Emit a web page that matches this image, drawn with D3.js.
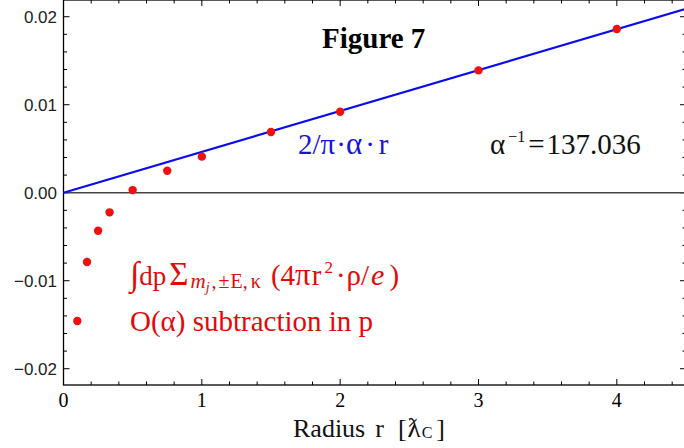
<!DOCTYPE html>
<html>
<head>
<meta charset="utf-8">
<script src="https://cdn.jsdelivr.net/npm/d3@7"></script>
<style>
  body { margin: 0; background: #fff; }
  svg { display: block; }
</style>
</head>
<body>
<script>
// data
var radius = [0.1, 0.17, 0.25, 0.333, 0.5, 0.75, 1, 1.5, 2, 3, 4];
var density = [-0.01458, -0.00788, -0.00432, -0.00223, 0.0003, 0.0025, 0.0041, 0.0069, 0.0092, 0.0139, 0.0186];
// straight line 2/pi*alpha*r, end points
var lineR = [0, 4.5];
var lineVal = [0, 0.0209];
var xTickLabels = ["0", "1", "2", "3", "4"];
var yTickLabels = ["\u22120.02", "\u22120.01", "0.00", "0.01", "0.02"];
var yTickVals = [-0.02, -0.01, 0, 0.01, 0.02];

var svgWidth = 684;
var svgHeight = 448;

var svg = d3.select("body")
  .append("svg")
  .attr("width", svgWidth)
  .attr("height", svgHeight);

var xScale = d3.scaleLinear()
  .domain([0, 4.5])
  .range([63.5, 686]);

var yScale = d3.scaleLinear()
  .domain([-0.02185, 0.0219])
  .range([385, 0]);

var serif = "'Liberation Serif', 'Times New Roman', serif";

// frame
svg.append("rect")
  .attr("x", xScale(0))
  .attr("y", yScale(0.0219))
  .attr("width", xScale(4.5) - xScale(0))
  .attr("height", yScale(-0.02185) - yScale(0.0219))
  .attr("fill", "none")
  .attr("stroke", "#000")
  .attr("stroke-width", 1.3);

// ticks pointing inwards on all 4 sides
var xMajor = d3.range(0, 4.01, 1);
var xMinor = d3.range(0, 4.5, 0.2).filter(d => Math.abs(d - Math.round(d)) > 0.01);
var yMajor = yTickVals;
var yMinor = d3.range(-0.02, 0.0201, 0.002).filter(d => Math.abs(d * 100 - Math.round(d * 100)) > 0.01);

function xTicks(vals, len) {
  svg.append("g").selectAll("line.b")
    .data(vals).enter().append("line")
    .attr("x1", d => xScale(d)).attr("x2", d => xScale(d))
    .attr("y1", yScale.range()[0]).attr("y2", yScale.range()[0] - len)
    .attr("stroke", "#000").attr("stroke-width", 1);
  svg.append("g").selectAll("line.t")
    .data(vals).enter().append("line")
    .attr("x1", d => xScale(d)).attr("x2", d => xScale(d))
    .attr("y1", 0).attr("y2", len)
    .attr("stroke", "#000").attr("stroke-width", 1);
}
function yTicks(vals, len) {
  svg.append("g").selectAll("line.l")
    .data(vals).enter().append("line")
    .attr("x1", xScale(0)).attr("x2", xScale(0) + len)
    .attr("y1", d => yScale(d)).attr("y2", d => yScale(d))
    .attr("stroke", "#000").attr("stroke-width", 1);
  svg.append("g").selectAll("line.r")
    .data(vals).enter().append("line")
    .attr("x1", xScale(4.5)).attr("x2", xScale(4.5) - len)
    .attr("y1", d => yScale(d)).attr("y2", d => yScale(d))
    .attr("stroke", "#000").attr("stroke-width", 1);
}
xTicks(xMajor, 6);
xTicks(xMinor, 3.5);
yTicks(yMajor, 6);
yTicks(yMinor, 3.5);

// tick labels
svg.append("g").selectAll("text")
  .data(xMajor).enter().append("text")
  .attr("x", d => xScale(d))
  .attr("y", 407)
  .attr("text-anchor", "middle")
  .style("font-family", serif)
  .style("font-size", "20px")
  .text((d, i) => xTickLabels[i]);

svg.append("g").selectAll("text")
  .data(yMajor).enter().append("text")
  .attr("x", 57)
  .attr("y", d => yScale(d) + 6)
  .attr("text-anchor", "end")
  .style("font-family", "'Liberation Sans', Arial, sans-serif")
  .style("font-size", "17px")
  .style("fill", "#222")
  .text((d, i) => yTickLabels[i]);

// zero line
svg.append("line")
  .attr("x1", xScale(0)).attr("x2", xScale(4.5))
  .attr("y1", yScale(0)).attr("y2", yScale(0))
  .attr("stroke", "#444")
  .attr("stroke-width", 1.5);

// blue line
var line = d3.line()
  .x((d, i) => xScale(lineR[i]))
  .y(d => yScale(d));
svg.append("path")
  .datum(lineVal)
  .attr("d", line)
  .attr("fill", "none")
  .attr("stroke", "#0a0af0")
  .attr("stroke-width", 2.2);

// points
svg.append("g").selectAll("circle")
  .data(radius).enter().append("circle")
  .attr("cx", d => xScale(d))
  .attr("cy", (d, i) => yScale(density[i]))
  .attr("r", 4.2)
  .attr("fill", "#f01010");

// annotations
svg.append("text")
  .attr("x", 322).attr("y", 48)
  .style("font-family", serif)
  .style("font-size", "29px")
  .style("font-weight", "bold")
  .text("Figure 7");

// helper: piece of running text, shifted by dx / dy
function piece(parent, str, dx, size, dy, italic) {
  var t = parent.append("tspan").text(str);
  if (dx) t.attr("dx", dx);
  if (size) t.style("font-size", size + "px");
  if (dy) t.attr("dy", dy);
  if (italic) t.style("font-style", "italic");
  return t;
}

var blueTxt = svg.append("text")
  .attr("x", 298).attr("y", 154)
  .style("font-family", serif)
  .style("font-size", "29px")
  .style("fill", "#1414d8");
piece(blueTxt, "2/\u03c0");
piece(blueTxt, "\u00b7", 1);
piece(blueTxt, "\u03b1", 0, 31);
piece(blueTxt, "\u00b7", 3);
piece(blueTxt, "r", 4);

var alphaTxt = svg.append("text")
  .attr("x", 490).attr("y", 154)
  .style("font-family", serif)
  .style("font-size", "29px")
  .style("fill", "#111");
piece(alphaTxt, "\u03b1");
piece(alphaTxt, "\u22121", 3, 16, -12);
piece(alphaTxt, "=", 3, null, 12);
piece(alphaTxt, "137.036", 2);

var red = "#e00a0a";
var t1 = svg.append("text")
  .attr("x", 130).attr("y", 285)
  .style("font-family", serif)
  .style("font-size", "29px")
  .style("fill", red);
piece(t1, "\u222b", 0, 34);
piece(t1, "dp", 0, 27);
piece(t1, "\u03a3", 3, 33);
piece(t1, "m", 2, 21, 3, true);
piece(t1, "j", 0, 14, 4, true);
piece(t1, ",", 2, 20, -4);
piece(t1, "\u00b1", 2, 20);
piece(t1, "E,", 1, 20);
piece(t1, "\u03ba", 3, 20);
piece(t1, "(", 10, null, -3);
piece(t1, "4");
piece(t1, "\u03c0", 0, 31);
piece(t1, "r", 1);
piece(t1, "2", 3, 17, -12);
piece(t1, "\u00b7", 3, null, 12);
piece(t1, "\u03c1", 1);
piece(t1, "/");
piece(t1, "e", 2, 30, null, true);
piece(t1, ")", 5);

svg.append("text")
  .attr("x", 130).attr("y", 331)
  .style("font-family", serif)
  .style("font-size", "29px")
  .style("fill", red)
  .text("O(\u03b1) subtraction in p");

// x axis title
var xt = svg.append("text")
  .attr("x", 293).attr("y", 437)
  .style("font-family", serif)
  .style("font-size", "26px")
  .style("fill", "#111");
piece(xt, "Radius");
piece(xt, "r", 10);
piece(xt, "[", 14);
piece(xt, "\u019b", 1, 27);
piece(xt, "C", 1, 16, 1);
piece(xt, "]", 4, null, -1);
</script>
</body>
</html>
